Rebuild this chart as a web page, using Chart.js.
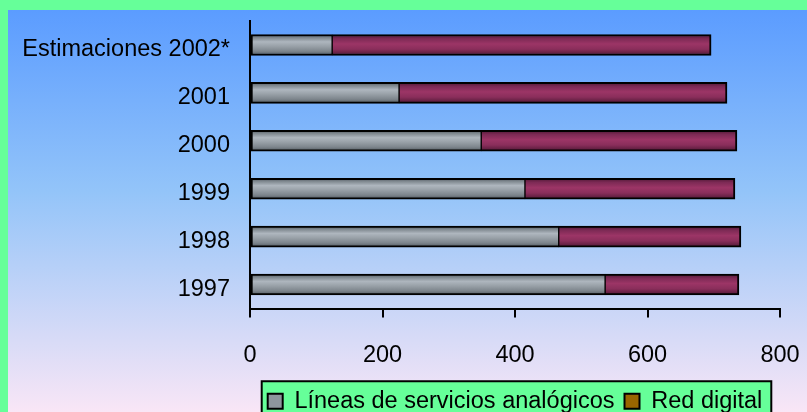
<!DOCTYPE html>
<html>
<head>
<meta charset="utf-8">
<script src="https://cdn.jsdelivr.net/npm/chart.js@4"></script>
<style>
  html, body { margin: 0; padding: 0; overflow: hidden; background: #66FF99; }
  #chart { display: block; }
</style>
</head>
<body>
<canvas id="chart" width="807" height="423"></canvas>
<script>
// Horizontal stacked bars, old spreadsheet look.
const categories = ['Estimaciones 2002*', '2001', '2000', '1999', '1998', '1997'];
const analog = [124, 225, 349, 415, 466, 536];
const digital = [572, 495, 386, 317, 275, 202];
const seriesNames = ['Líneas de servicios analógicos', 'Red digital'];
const xTicks = [0, 200, 400, 600, 800];

const BAR = 21;
const GREEN = '#66FF99';

Chart.defaults.font.family = "'Liberation Sans', Arial, sans-serif";
Chart.defaults.font.size = 23.5;
Chart.defaults.color = '#000';

function stripe(stops) {
  return (c) => {
    const chart = c.chart;
    const y = chart.scales && chart.scales.y;
    if (!y || c.dataIndex === undefined) return stops[Math.floor(stops.length / 2)][1];
    const yc = y.getPixelForValue(c.dataIndex);
    const g = chart.ctx.createLinearGradient(0, yc - BAR / 2, 0, yc + BAR / 2);
    stops.forEach(([p, col]) => g.addColorStop(p, col));
    return g;
  };
}

const grayStops = [[0, '#50585f'], [0.15, '#7f888f'], [0.35, '#aeb6be'], [0.55, '#9aa2a9'], [0.8, '#7d858c'], [1, '#50585f']];
const redStops = [[0, '#4e1834'], [0.2, '#7d2a55'], [0.45, '#9c3566'], [0.7, '#8a2e5b'], [1, '#4e1834']];

const backdrop = {
  id: 'backdrop',
  beforeDraw(chart) {
    const { ctx, width, height } = chart;
    ctx.save();
    ctx.fillStyle = GREEN;
    ctx.fillRect(0, 0, width, height);
    const g = ctx.createLinearGradient(0, 10, 0, 412);
    g.addColorStop(0, '#5b9cff');
    g.addColorStop(0.45, '#93c4f9');
    g.addColorStop(1, '#f9e6f6');
    ctx.fillStyle = g;
    ctx.fillRect(8, 10, width - 8, height - 10);

    // legend frame
    const hb = chart.legend && chart.legend.legendHitBoxes;
    if (hb && hb.length) {
      const first = hb[0], last = hb[hb.length - 1];
      const left = first.left - 6;
      const right = last.left + last.width + 9;
      const top = first.top + first.height / 2 - 20;
      ctx.fillStyle = GREEN;
      ctx.fillRect(left, top, right - left, height - top + 10);
      ctx.strokeStyle = '#000';
      ctx.lineWidth = 2;
      ctx.strokeRect(left, top, right - left, height - top + 10);
    }
    ctx.restore();
  }
};

new Chart(document.getElementById('chart'), {
  type: 'bar',
  data: {
    labels: categories,
    datasets: [
      {
        label: seriesNames[0], data: analog, backgroundColor: stripe(grayStops),
        borderColor: '#000', borderWidth: { top: 2, bottom: 2, left: 2, right: 1 }, borderSkipped: false,
        barThickness: BAR,
      },
      {
        label: seriesNames[1], data: digital, backgroundColor: stripe(redStops),
        borderColor: '#000', borderWidth: { top: 2, bottom: 2, left: 1, right: 2 }, borderSkipped: false,
        barThickness: BAR,
      },
    ],
  },
  options: {
    indexAxis: 'y',
    responsive: false,
    animation: false,
    layout: { padding: { top: 21, right: 27, left: 0, bottom: 0 } },
    plugins: {
      tooltip: { enabled: false },
      legend: {
        position: 'bottom',
        fullSize: false,
        labels: {
          boxWidth: 15, boxHeight: 15, padding: 10,
          generateLabels: () => seriesNames.map((text, i) => ({
            text, datasetIndex: i, hidden: false,
            fillStyle: i === 0 ? '#8e969d' : '#996600',
            strokeStyle: '#000', lineWidth: 2,
          })),
        },
      },
    },
    scales: {
      x: {
        stacked: true,
        min: xTicks[0], max: xTicks[xTicks.length - 1],
        afterBuildTicks: (s) => { s.ticks = xTicks.map((v) => ({ value: v })); },
        afterFit: (s) => { s.height = 71; s.paddingLeft = 0; s.paddingRight = 0; },
        ticks: { padding: 24, maxRotation: 0 },
        grid: { drawOnChartArea: false, drawTicks: true, tickLength: 9, color: '#000', lineWidth: 2 },
        border: { display: true, color: '#000', width: 2 },
      },
      y: {
        stacked: true,
        afterFit: (s) => { s.width = 250; s.paddingTop = 0; s.paddingBottom = 0; },
        ticks: { padding: 20, labelOffset: 5 },
        grid: { drawOnChartArea: false, drawTicks: false },
        border: { display: true, color: '#000', width: 2 },
      },
    },
  },
  plugins: [backdrop],
});
</script>
</body>
</html>
